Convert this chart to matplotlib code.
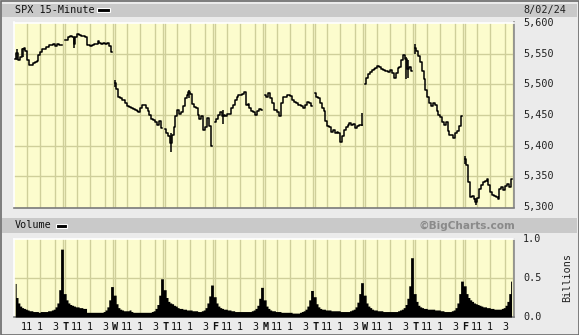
import matplotlib.pyplot as plt
from matplotlib.patches import Rectangle
from matplotlib.transforms import blended_transform_factory

# SPX 15-minute closes, one list per session (26 bars, 9:30 .. 15:45)
close_0722 = [5542, 5552, 5540, 5545, 5558, 5560, 5555, 5540, 5532, 5531, 5535, 5536, 5538,
              5548, 5553, 5557, 5558, 5561, 5561, 5565, 5564, 5566, 5563, 5566, 5565, 5564]
close_0723 = [5572, 5573, 5577, 5579, 5577, 5566, 5578, 5582, 5581, 5579, 5579, 5577, 5565,
              5564, 5563, 5565, 5566, 5566, 5570, 5567, 5566, 5568, 5566, 5567, 5562, 5553]
close_0724 = [5503, 5492, 5480, 5478, 5475, 5474, 5469, 5464, 5463, 5461, 5460, 5458, 5456,
              5455, 5462, 5466, 5467, 5462, 5456, 5450, 5444, 5442, 5438, 5434, 5440, 5428]
close_0725 = [5427, 5420, 5415, 5405, 5418, 5430, 5448, 5458, 5452, 5455, 5464, 5477, 5482,
              5488, 5485, 5468, 5463, 5462, 5450, 5443, 5448, 5425, 5430, 5445, 5432, 5400]
close_0726 = [5438, 5444, 5450, 5455, 5448, 5450, 5448, 5451, 5452, 5462, 5466, 5475, 5479,
              5483, 5482, 5485, 5487, 5466, 5468, 5462, 5457, 5455, 5450, 5457, 5460, 5458]
close_0729 = [5482, 5480, 5486, 5478, 5470, 5458, 5458, 5455, 5448, 5470, 5480, 5480, 5482,
              5483, 5481, 5475, 5472, 5470, 5467, 5466, 5464, 5461, 5466, 5471, 5470, 5465]
close_0730 = [5486, 5480, 5477, 5470, 5462, 5456, 5440, 5432, 5430, 5423, 5425, 5421, 5423,
              5420, 5406, 5416, 5425, 5430, 5433, 5437, 5434, 5436, 5428, 5432, 5434, 5434]
close_0731 = [5500, 5510, 5517, 5520, 5523, 5525, 5526, 5530, 5528, 5525, 5524, 5522, 5522,
              5521, 5524, 5518, 5510, 5518, 5526, 5529, 5540, 5548, 5542, 5525, 5528, 5522]
close_0801 = [5560, 5555, 5546, 5537, 5522, 5508, 5490, 5480, 5470, 5465, 5470, 5466, 5456,
              5450, 5447, 5438, 5434, 5438, 5424, 5417, 5418, 5412, 5420, 5424, 5432, 5448]
close_0802 = [5378, 5368, 5340, 5316, 5318, 5313, 5308, 5314, 5330, 5335, 5340, 5342, 5346,
              5335, 5325, 5320, 5318, 5316, 5313, 5330, 5333, 5328, 5334, 5337, 5332, 5345]

# bar ranges that stick out of the close line: (session, bar, low, high)
wicks = [(0, 1, 5540, 5558), (0, 4, 5545, 5560), (1, 5, 5559, 5578), (2, 0, 5495, 5507),
         (3, 3, 5390, 5420), (3, 13, 5478, 5491), (4, 4, 5435, 5458), (6, 25, 5432, 5453),
         (7, 22, 5508, 5545), (7, 23, 5510, 5540), (8, 0, 5550, 5566), (9, 0, 5370, 5383),
         (9, 6, 5303, 5315)]

# volume, billions
vol_0722 = [0.43, 0.25, 0.18, 0.14, 0.12, 0.11, 0.10, 0.09, 0.08, 0.08, 0.07, 0.07, 0.07,
            0.06, 0.07, 0.07, 0.07, 0.07, 0.08, 0.08, 0.09, 0.10, 0.13, 0.18, 0.35, 0.87]
vol_0723 = [0.30, 0.22, 0.18, 0.16, 0.15, 0.14, 0.13, 0.13, 0.12, 0.12, 0.11, 0.11, 0.06,
            0.06, 0.06, 0.06, 0.06, 0.06, 0.06, 0.06, 0.06, 0.07, 0.09, 0.13, 0.22, 0.39]
vol_0724 = [0.28, 0.17, 0.12, 0.10, 0.09, 0.08, 0.08, 0.08, 0.09, 0.07, 0.06, 0.06, 0.06,
            0.06, 0.06, 0.06, 0.06, 0.06, 0.06, 0.06, 0.07, 0.08, 0.11, 0.16, 0.28, 0.49]
vol_0725 = [0.35, 0.25, 0.20, 0.18, 0.17, 0.15, 0.14, 0.12, 0.11, 0.11, 0.10, 0.10, 0.09,
            0.09, 0.09, 0.08, 0.08, 0.08, 0.07, 0.07, 0.08, 0.09, 0.12, 0.18, 0.27, 0.41]
vol_0726 = [0.26, 0.18, 0.14, 0.12, 0.11, 0.10, 0.10, 0.09, 0.09, 0.08, 0.08, 0.07, 0.07,
            0.07, 0.07, 0.07, 0.07, 0.07, 0.07, 0.07, 0.08, 0.09, 0.11, 0.15, 0.24, 0.38]
vol_0729 = [0.22, 0.14, 0.11, 0.09, 0.08, 0.08, 0.07, 0.07, 0.07, 0.06, 0.06, 0.06, 0.06,
            0.06, 0.06, 0.05, 0.05, 0.05, 0.05, 0.06, 0.07, 0.08, 0.10, 0.14, 0.22, 0.34]
vol_0730 = [0.26, 0.17, 0.13, 0.11, 0.10, 0.10, 0.09, 0.09, 0.09, 0.08, 0.08, 0.08, 0.08,
            0.08, 0.07, 0.07, 0.07, 0.07, 0.07, 0.08, 0.09, 0.10, 0.13, 0.19, 0.30, 0.44]
vol_0731 = [0.28, 0.18, 0.14, 0.12, 0.10, 0.09, 0.09, 0.08, 0.08, 0.08, 0.07, 0.07, 0.07,
            0.07, 0.07, 0.07, 0.07, 0.07, 0.08, 0.09, 0.10, 0.12, 0.16, 0.24, 0.40, 0.76]
vol_0801 = [0.30, 0.20, 0.15, 0.13, 0.12, 0.11, 0.11, 0.10, 0.10, 0.10, 0.10, 0.09, 0.09,
            0.09, 0.08, 0.08, 0.07, 0.07, 0.07, 0.07, 0.08, 0.09, 0.12, 0.18, 0.30, 0.46]
vol_0802 = [0.40, 0.30, 0.25, 0.22, 0.20, 0.18, 0.17, 0.16, 0.15, 0.14, 0.13, 0.13, 0.12,
            0.12, 0.11, 0.11, 0.10, 0.10, 0.10, 0.10, 0.11, 0.12, 0.15, 0.20, 0.30, 0.46]

closes = [close_0722, close_0723, close_0724, close_0725, close_0726,
          close_0729, close_0730, close_0731, close_0801, close_0802]
volumes = [vol_0722, vol_0723, vol_0724, vol_0725, vol_0726,
           vol_0729, vol_0730, vol_0731, vol_0801, vol_0802]
day_letters = ['', 'T', 'W', 'T', 'F', 'M', 'T', 'W', 'T', 'F']
hour_labels = ['11', '1', '3']
price_ticks = [5300, 5350, 5400, 5450, 5500, 5550, 5600]
vol_ticks = [0.0, 0.5, 1.0]

SLOTS = 27  # 26 bars + one empty slot per session
hour_pos = [6.6, 14, 22]

W, H = 579, 335
BG = '#ebebeb'
BAND = '#c9c9c9'
PANEL = '#fcfccd'
GRID = '#cfcf9a'
MONO = 'DejaVu Sans Mono'


def fx(px):
    return px / W


def fy(py):
    return 1 - py / H


def band(fig, x0, y0, x1, y1, color, **kw):
    fig.patches.append(Rectangle((fx(x0), fy(y1)), fx(x1) - fx(x0), fy(y0) - fy(y1),
                                 transform=fig.transFigure, facecolor=color, **kw))


fig = plt.figure(figsize=(W / 100, H / 100), dpi=100)
fig.patch.set_facecolor(BG)

band(fig, 2, 3.5, 577, 16.7, BAND, edgecolor='none')
band(fig, 2, 218.3, 577, 232.7, BAND, edgecolor='none')
band(fig, 0.5, 0.5, 578.5, 334.5, 'none', edgecolor='#6a6a6a', linewidth=1.2)
band(fig, 97.5, 8, 109.5, 12, 'black', edgecolor='white', linewidth=0.8)
band(fig, 56, 223.5, 67, 227.5, 'black', edgecolor='white', linewidth=0.8)

fig.text(fx(15), fy(10), 'SPX 15-Minute', family=MONO, fontsize=7.3, va='center', color='#111')
fig.text(fx(523), fy(9.5), '8/02/24', family=MONO, fontsize=7.3, va='center', color='#222')
fig.text(fx(15), fy(225.5), 'Volume', family=MONO, fontsize=7.3, va='center', color='#111')
fig.text(fx(515.5), fy(225.5), '\u00a9BigCharts.com', fontsize=7.6, fontweight='bold',
         ha='right', va='center', color='#8a8a8a')
fig.text(fx(567), fy(277), 'Billions', family=MONO, fontsize=7.3, rotation=90,
         ha='center', va='center', color='#222')

ax = fig.add_axes([fx(14.3), fy(207.5), fx(500), 185 / H])
vax = fig.add_axes([fx(14.3), fy(317), fx(500), 78 / H])

for a in (ax, vax):
    a.set_facecolor(PANEL)
    a.set_xlim(0, SLOTS * len(closes))
    a.set_xticks([])
    a.set_yticks([])
    for d in range(len(closes)):
        xs = [d * SLOTS + p for p in hour_pos] + [d * SLOTS + 26.5]
        if d > 0:
            xs.append(d * SLOTS + 0.4)
        for x in xs:
            a.axvline(x, color=GRID, lw=1.0, zorder=1)
    a.spines['top'].set_color('white')
    a.spines['left'].set_color('white')
    a.spines['right'].set_color('#8a8a8a')
    a.spines['bottom'].set_color('#7a7a7a')
    for s in a.spines.values():
        s.set_linewidth(1.2)

ax.set_ylim(5299, 5601)
for p in price_ticks[1:-1]:
    ax.axhline(p, color=GRID, lw=1.0, zorder=1)

for d, day in enumerate(closes):
    xs = [d * SLOTS + i + 0.5 for i in range(len(day))]
    ax.step(xs, day, where='mid', color='black', lw=1.1, zorder=3)
for d, i, lo, hi in wicks:
    ax.vlines(d * SLOTS + i + 0.5, lo, hi, color='black', lw=1.1, zorder=3)

ytr = blended_transform_factory(fig.transFigure, ax.transData)
for p in price_ticks:
    ax.text(fx(523), p, f'{p:,}', transform=ytr, family=MONO, fontsize=7.3,
            va='center', ha='left', color='#222', clip_on=False)

vax.set_ylim(0, 1.0)
vax.axhline(0.5, color=GRID, lw=1.0, zorder=1)
vx, vy = [], []
for d, day in enumerate(volumes):
    vx += [d * SLOTS + i + 0.5 for i in range(len(day))]
    vy += day
vax.fill_between(vx, vy, step='mid', color='black', lw=0, zorder=3)

vtr = blended_transform_factory(fig.transFigure, vax.transData)
for v in vol_ticks:
    vax.text(fx(523), v, f'{v:.1f}', transform=vtr, family=MONO, fontsize=7.3,
             va='center', ha='left', color='#222', clip_on=False)

xtr = blended_transform_factory(vax.transData, fig.transFigure)
for d in range(len(closes)):
    if day_letters[d]:
        vax.text(d * SLOTS + 0.5, fy(327), day_letters[d], transform=xtr, family=MONO,
                 fontsize=7.3, fontweight='bold', ha='center', va='center', color='#111')
    for p, lab in zip(hour_pos, hour_labels):
        vax.text(d * SLOTS + p, fy(327), lab, transform=xtr, family=MONO, fontsize=7.3,
                 ha='center', va='center', color='#111')

fig.savefig('out.png', dpi=100, facecolor=fig.get_facecolor())
